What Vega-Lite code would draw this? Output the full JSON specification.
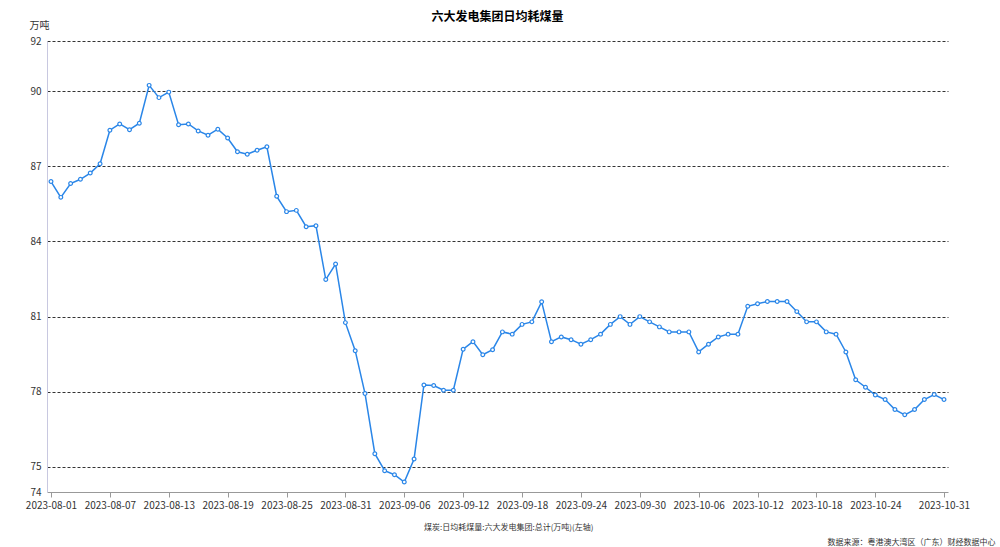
{
  "$schema": "https://vega.github.io/schema/vega-lite/v6.json",
  "width": 901,
  "height": 451,
  "autosize": "none",
  "padding": {"left": 47, "top": 41, "right": 52, "bottom": 55},
  "background": "white",
  "config": {
    "font": "Noto Sans CJK SC",
    "view": {"stroke": null}
  },
  "title": {
    "text": "六大发电集团日均耗煤量",
    "anchor": "middle",
    "fontSize": 12,
    "fontWeight": "bold",
    "color": "#000000",
    "offset": -4
  },
  "data": {
    "values": [
      {"date": "2023-08-01", "value": 86.39},
      {"date": "2023-08-02", "value": 85.76},
      {"date": "2023-08-03", "value": 86.31},
      {"date": "2023-08-04", "value": 86.48},
      {"date": "2023-08-05", "value": 86.73},
      {"date": "2023-08-06", "value": 87.10},
      {"date": "2023-08-07", "value": 88.44},
      {"date": "2023-08-08", "value": 88.69},
      {"date": "2023-08-09", "value": 88.46},
      {"date": "2023-08-10", "value": 88.72},
      {"date": "2023-08-11", "value": 90.23},
      {"date": "2023-08-12", "value": 89.74},
      {"date": "2023-08-13", "value": 89.96},
      {"date": "2023-08-14", "value": 88.66},
      {"date": "2023-08-15", "value": 88.69},
      {"date": "2023-08-16", "value": 88.41},
      {"date": "2023-08-17", "value": 88.24},
      {"date": "2023-08-18", "value": 88.48},
      {"date": "2023-08-19", "value": 88.13},
      {"date": "2023-08-20", "value": 87.58},
      {"date": "2023-08-21", "value": 87.48},
      {"date": "2023-08-22", "value": 87.64},
      {"date": "2023-08-23", "value": 87.78},
      {"date": "2023-08-24", "value": 85.80},
      {"date": "2023-08-25", "value": 85.19},
      {"date": "2023-08-26", "value": 85.24},
      {"date": "2023-08-27", "value": 84.59},
      {"date": "2023-08-28", "value": 84.63},
      {"date": "2023-08-29", "value": 82.48},
      {"date": "2023-08-30", "value": 83.10},
      {"date": "2023-08-31", "value": 80.76},
      {"date": "2023-09-01", "value": 79.64},
      {"date": "2023-09-02", "value": 77.93},
      {"date": "2023-09-03", "value": 75.53},
      {"date": "2023-09-04", "value": 74.85},
      {"date": "2023-09-05", "value": 74.69},
      {"date": "2023-09-06", "value": 74.40},
      {"date": "2023-09-07", "value": 75.32},
      {"date": "2023-09-08", "value": 78.27},
      {"date": "2023-09-09", "value": 78.25},
      {"date": "2023-09-10", "value": 78.06},
      {"date": "2023-09-11", "value": 78.06},
      {"date": "2023-09-12", "value": 79.70},
      {"date": "2023-09-13", "value": 80.00},
      {"date": "2023-09-14", "value": 79.48},
      {"date": "2023-09-15", "value": 79.68},
      {"date": "2023-09-16", "value": 80.39},
      {"date": "2023-09-17", "value": 80.30},
      {"date": "2023-09-18", "value": 80.69},
      {"date": "2023-09-19", "value": 80.79},
      {"date": "2023-09-20", "value": 81.59},
      {"date": "2023-09-21", "value": 80.00},
      {"date": "2023-09-22", "value": 80.19},
      {"date": "2023-09-23", "value": 80.08},
      {"date": "2023-09-24", "value": 79.90},
      {"date": "2023-09-25", "value": 80.08},
      {"date": "2023-09-26", "value": 80.30},
      {"date": "2023-09-27", "value": 80.69},
      {"date": "2023-09-28", "value": 81.00},
      {"date": "2023-09-29", "value": 80.69},
      {"date": "2023-09-30", "value": 81.00},
      {"date": "2023-10-01", "value": 80.79},
      {"date": "2023-10-02", "value": 80.59},
      {"date": "2023-10-03", "value": 80.39},
      {"date": "2023-10-04", "value": 80.39},
      {"date": "2023-10-05", "value": 80.39},
      {"date": "2023-10-06", "value": 79.59},
      {"date": "2023-10-07", "value": 79.90},
      {"date": "2023-10-08", "value": 80.19},
      {"date": "2023-10-09", "value": 80.30},
      {"date": "2023-10-10", "value": 80.30},
      {"date": "2023-10-11", "value": 81.41},
      {"date": "2023-10-12", "value": 81.51},
      {"date": "2023-10-13", "value": 81.60},
      {"date": "2023-10-14", "value": 81.60},
      {"date": "2023-10-15", "value": 81.60},
      {"date": "2023-10-16", "value": 81.20},
      {"date": "2023-10-17", "value": 80.79},
      {"date": "2023-10-18", "value": 80.79},
      {"date": "2023-10-19", "value": 80.39},
      {"date": "2023-10-20", "value": 80.30},
      {"date": "2023-10-21", "value": 79.59},
      {"date": "2023-10-22", "value": 78.48},
      {"date": "2023-10-23", "value": 78.18},
      {"date": "2023-10-24", "value": 77.87},
      {"date": "2023-10-25", "value": 77.69},
      {"date": "2023-10-26", "value": 77.29},
      {"date": "2023-10-27", "value": 77.08},
      {"date": "2023-10-28", "value": 77.29},
      {"date": "2023-10-29", "value": 77.69},
      {"date": "2023-10-30", "value": 77.89},
      {"date": "2023-10-31", "value": 77.69}
    ]
  },
  "mark": {
    "type": "line",
    "strokeWidth": 1.5,
    "point": {"filled": false, "fill": "white", "size": 14, "strokeWidth": 1.2}
  },
  "encoding": {
    "x": {
      "field": "date",
      "type": "temporal",
      "scale": {"type": "utc", "padding": 4, "nice": false},
      "axis": {
        "values": [
          {"year": 2023, "month": 8, "date": 1, "utc": true},
          {"year": 2023, "month": 8, "date": 7, "utc": true},
          {"year": 2023, "month": 8, "date": 13, "utc": true},
          {"year": 2023, "month": 8, "date": 19, "utc": true},
          {"year": 2023, "month": 8, "date": 25, "utc": true},
          {"year": 2023, "month": 8, "date": 31, "utc": true},
          {"year": 2023, "month": 9, "date": 6, "utc": true},
          {"year": 2023, "month": 9, "date": 12, "utc": true},
          {"year": 2023, "month": 9, "date": 18, "utc": true},
          {"year": 2023, "month": 9, "date": 24, "utc": true},
          {"year": 2023, "month": 9, "date": 30, "utc": true},
          {"year": 2023, "month": 10, "date": 6, "utc": true},
          {"year": 2023, "month": 10, "date": 12, "utc": true},
          {"year": 2023, "month": 10, "date": 18, "utc": true},
          {"year": 2023, "month": 10, "date": 24, "utc": true},
          {"year": 2023, "month": 10, "date": 31, "utc": true}
        ],
        "labelExpr": "utcFormat(datum.value, '%Y-%m-%d')",
        "grid": false,
        "domainColor": "#999999",
        "tickColor": "#999999",
        "tickSize": 5,
        "labelFontSize": 10,
        "labelColor": "#333333",
        "labelPadding": 3,
        "labelOverlap": false,
        "labelFlush": false,
        "title": "数据来源：粤港澳大湾区（广东）财经数据中心",
        "titleFontSize": 8,
        "titleFontWeight": "normal",
        "titleColor": "#333333",
        "titleAnchor": "end",
        "titleAlign": "right",
        "titleBaseline": "middle",
        "titleX": 948,
        "titleY": 50
      }
    },
    "y": {
      "field": "value",
      "type": "quantitative",
      "scale": {"domain": [74, 92], "nice": false, "zero": false},
      "axis": {
        "values": [74, 75, 78, 81, 84, 87, 90, 92],
        "ticks": false,
        "domainColor": "#c8c8e0",
        "grid": true,
        "gridColor": "#333333",
        "gridDash": [3, 2],
        "gridWidth": 1,
        "gridOpacity": {"condition": {"test": "datum.value === 74", "value": 0}, "value": 1},
        "labelFontSize": 10,
        "labelColor": "#333333",
        "labelPadding": 6,
        "title": "万吨",
        "titleAngle": 0,
        "titleFontSize": 10,
        "titleFontWeight": "normal",
        "titleColor": "#333333",
        "titleAlign": "left",
        "titleBaseline": "middle",
        "titleX": -18,
        "titleY": -16
      }
    },
    "color": {
      "datum": "煤炭:日均耗煤量:六大发电集团:总计(万吨)(左轴)",
      "type": "nominal",
      "scale": {"range": ["#2a86e8"]},
      "legend": {
        "title": null,
        "orient": "none",
        "legendX": 366,
        "legendY": 483,
        "symbolType": "diamond",
        "symbolFillColor": "#2a86e8",
        "symbolStrokeColor": "#2a86e8",
        "symbolStrokeWidth": 0,
        "symbolSize": 22,
        "labelFontSize": 8,
        "labelLimit": 500,
        "labelOffset": 3,
        "labelColor": "#333333"
      }
    }
  }
}
